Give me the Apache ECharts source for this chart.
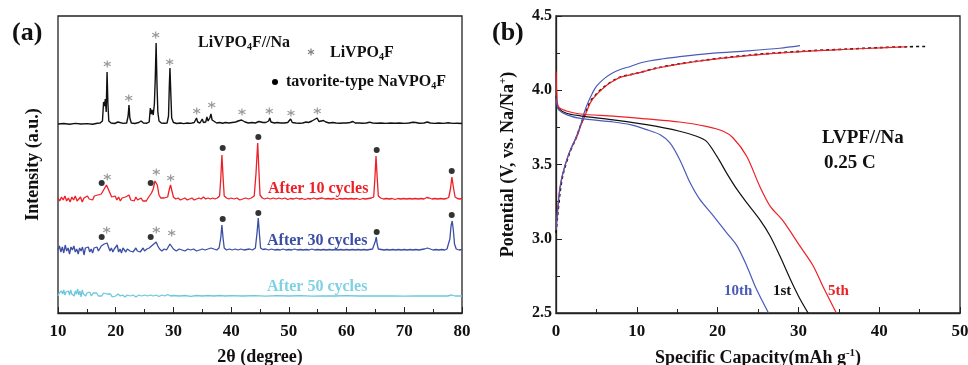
<!DOCTYPE html>
<html lang="en">
  <head>
    <meta charset="UTF-8" />
    <title>LiVPO4F XRD and charge/discharge</title>
    <script src="https://cdn.jsdelivr.net/npm/echarts@6/dist/echarts.min.js"></script>
    <style>
      body { margin: 0; background: #fff; }
    </style>
  </head>
  <body>
    <div id="main" style="width: 968px; height: 365px"></div>
    <script type="text/javascript">
      // (a) XRD patterns: [2theta, intensity above each pattern's own baseline]
      const xrdPristine = [
        [10,0],[11,0.5],[12,-0.3],[13,0.6],[14,0],[15,0.4],[16,-0.2],[16.8,0.8],[17.3,1],[17.7,3],[17.9,22],[18.05,18],[18.2,25],[18.35,12],[18.5,52],[18.65,20],[18.8,3],[19.2,1],[19.8,0.5],[20.4,2],[20.7,0.5],[21.3,0.6],[21.9,1],[22.15,8],[22.3,19],[22.45,6],[22.7,1],[23.3,0.5],[24,1.5],[24.4,3],[24.8,1],[25.4,0.8],[25.8,2],[26,16],[26.15,10],[26.3,14],[26.5,9],[26.7,20],[26.85,45],[27,81],[27.15,40],[27.3,12],[27.5,3],[27.9,1],[28.4,0.8],[28.9,1],[29.15,8],[29.3,40],[29.4,56],[29.55,30],[29.7,6],[30,1.5],[30.6,0.5],[31.2,1],[31.8,0.4],[32.4,1],[33,0.6],[33.6,1.5],[34,6],[34.2,2],[34.6,1],[35,5],[35.2,1.5],[35.6,2],[35.8,7],[36,3],[36.3,6],[36.5,10],[36.7,4],[37,2],[37.5,1],[38,1.5],[38.5,0.8],[39,1.5],[39.6,1],[40.2,1.5],[40.8,2],[41.2,3],[41.5,5],[41.8,4],[42.1,4],[42.4,2],[43,1],[43.6,1.5],[44.2,1],[44.8,2.5],[45.1,3],[45.5,1.5],[46,1.5],[46.5,3],[46.7,6],[46.9,2],[47.5,1],[48,1.5],[48.6,1],[49.2,1],[49.8,1.5],[50.3,5],[50.6,1.5],[51.2,1],[51.8,0.8],[52.4,1],[53,2],[53.4,1.5],[54,3],[54.3,2],[54.9,6],[55.2,2.5],[55.6,3],[56,3.5],[56.4,2],[57,1],[57.6,1.5],[58.2,1],[58.8,0.8],[59.4,1],[60,1],[60.6,1.5],[61.1,2.5],[61.5,1],[62.2,1],[62.8,0.8],[63.4,1],[64,1.8],[64.5,1],[65.2,0.8],[66,1],[66.8,0.6],[67.6,1],[68.4,0.8],[69.2,1],[70,0.6],[70.8,1],[71.5,1.8],[72,1.5],[72.6,0.8],[73.4,1],[74,2],[74.5,1],[75.2,0.6],[76,1],[76.8,0.6],[77.6,1.2],[78.4,0.6],[79.2,0.8],[80,0.5]
      ];
      const xrd10 = [
        [10,1],[10.3,-2],[10.6,2],[10.9,-1],[11.2,3],[11.5,-2],[11.8,1],[12.1,-3],[12.4,2],[12.7,-1],[13,3],[13.3,-2],[13.6,0],[13.9,2],[14.2,-3],[14.5,1],[14.8,-1],[15.1,3],[15.4,0],[15.7,2],[16,-1],[16.3,3],[16.6,1],[16.9,4],[17.2,2],[17.5,5],[17.8,7],[18.1,11],[18.4,14],[18.7,12],[19,6],[19.3,2],[19.6,0],[19.9,3],[20.2,-1],[20.5,2],[20.8,-2],[21.1,1],[21.4,-1],[21.7,2],[22,0],[22.3,4],[22.6,-1],[22.9,1],[23.2,-2],[23.5,2],[23.8,-1],[24.1,-3],[24.4,1],[24.7,-2],[25,0],[25.3,-2],[25.6,1],[25.9,3],[26.2,6],[26.5,10],[26.8,18],[27,20],[27.2,14],[27.5,4],[27.8,1],[28.1,-1],[28.4,1],[28.7,0],[29,2],[29.3,10],[29.5,14],[29.7,9],[30,2],[30.4,0],[30.8,1],[31.2,-1],[31.6,0],[32,1],[32.4,-1],[32.8,0],[33.2,1],[33.6,-1],[34,0],[34.4,1],[34.8,0],[35.2,2],[35.6,0],[36,1],[36.4,0],[36.8,1],[37.2,0],[37.6,1],[38,3],[38.2,20],[38.4,44],[38.6,22],[38.8,3],[39.2,1],[39.6,0],[40,1],[40.5,0],[41,1],[41.5,-1],[42,0],[42.5,1],[43,0],[43.5,1],[44,3],[44.3,25],[44.6,56],[44.8,30],[45,4],[45.4,1],[45.8,0],[46.3,1],[46.8,0],[47.3,1],[47.8,0],[48.3,1],[48.8,0],[49.3,1],[49.8,-0.5],[50.3,0.5],[50.8,0],[51.3,1],[51.8,0],[52.3,0.5],[52.8,-0.5],[53.3,0.5],[53.8,0],[54.3,1],[54.8,0],[55.3,0.5],[55.8,1],[56.3,0],[56.8,0.5],[57.3,0],[57.8,0.5],[58.3,-0.5],[58.8,0.5],[59.3,0],[59.8,0.5],[60.3,0],[60.8,0.5],[61.3,0],[61.8,0.5],[62.3,-0.5],[62.8,0.5],[63.3,0],[63.8,0.5],[64.3,1],[64.7,2],[64.9,20],[65.1,43],[65.3,22],[65.5,3],[65.9,1],[66.4,0],[66.9,0.5],[67.4,0],[67.9,0.5],[68.4,-0.5],[68.9,0.5],[69.4,0],[69.9,0.5],[70.4,0],[70.9,0.5],[71.4,0],[71.9,0.5],[72.4,0],[72.9,0.5],[73.4,0],[73.9,1.5],[74.3,1],[74.8,0],[75.3,0.5],[75.8,0],[76.3,0.5],[76.8,0],[77.3,0.5],[77.7,1.5],[78,10],[78.25,22],[78.5,12],[78.8,2],[79.2,0.5],[79.6,0],[80,0.5]
      ];
      const xrd30 = [
        [10,0],[10.25,4],[10.5,-2],[10.75,3],[11,-3],[11.25,5],[11.5,-1],[11.75,2],[12,-4],[12.25,3],[12.5,0],[12.75,4],[13,-2],[13.25,1],[13.5,-4],[13.75,2],[14,-1],[14.25,3],[14.5,-5],[14.75,2],[15,0],[15.25,3],[15.5,-2],[15.75,1],[16,-3],[16.25,2],[16.5,0],[16.75,3],[17,-1],[17.25,1],[17.5,4],[17.75,2],[18,6],[18.25,5],[18.5,7],[18.75,3],[19,-1],[19.25,2],[19.5,-2],[19.75,1],[20,-1],[20.25,5],[20.5,-2],[20.75,1],[21,-3],[21.25,2],[21.5,0],[21.75,-2],[22,1],[22.25,3],[22.5,-1],[22.75,1],[23,-2],[23.25,0],[23.5,2],[23.75,-1],[24,1],[24.25,-2],[24.5,0],[24.75,2],[25,-1],[25.4,1],[25.8,2],[26.1,3],[26.4,5],[26.7,6],[27,8],[27.3,4],[27.6,1],[28,-1],[28.4,1],[28.8,0],[29.1,3],[29.4,6],[29.7,4],[30,1],[30.5,-1],[31,1],[31.5,0],[32,-1],[32.5,1],[33,0],[33.5,1],[34,-1],[34.5,0],[35,1],[35.5,0],[36,1],[36.5,2],[37,1],[37.5,0],[37.9,2],[38.2,12],[38.4,25],[38.6,12],[38.8,2],[39.2,0],[39.7,1],[40.2,0],[40.7,1],[41.2,0],[41.7,1],[42.2,0],[42.7,0.5],[43.2,1],[43.7,0],[44.2,2],[44.5,18],[44.7,32],[44.9,16],[45.1,2],[45.5,0.5],[46,1],[46.5,0],[47,1],[47.5,0],[48,0.5],[48.5,0],[49,1],[49.5,0],[50,0.5],[50.5,0],[51,1],[51.5,0],[52,0.5],[52.5,0],[53,0.5],[53.5,0],[54,1],[54.5,0],[55,0.5],[55.5,0],[56,0.5],[56.5,0],[57,0.5],[57.5,0],[58,0.5],[58.5,0],[59,0.5],[59.5,0],[60,0.5],[60.5,0],[61,0.5],[61.5,0],[62,0.5],[62.5,0],[63,0.5],[63.5,0],[64,0.5],[64.5,1],[64.8,2],[65,9],[65.15,13],[65.3,6],[65.5,1],[66,0.5],[66.5,0],[67,0.5],[67.5,0],[68,0.5],[68.5,0],[69,0.5],[69.5,0],[70,0.5],[70.5,0],[71,0.5],[71.5,0],[72,0.5],[72.5,0],[73,0.5],[73.5,1],[74,2],[74.5,1],[75,0],[75.5,0.5],[76,0],[76.5,0.5],[77,0],[77.4,1],[77.7,3],[77.9,11],[78.1,24],[78.3,29],[78.5,20],[78.7,6],[79,1],[79.5,0],[80,0.5]
      ];
      const xrd50 = [
        [10,0],[10.2,3],[10.4,1],[10.6,5],[10.8,2],[11,6],[11.2,1],[11.4,4],[11.6,2],[11.8,5],[12,1],[12.2,6],[12.4,2],[12.6,4],[12.8,0],[13,5],[13.2,2],[13.4,7],[13.6,1],[13.8,5],[14,-1],[14.2,6],[14.4,2],[14.6,4],[14.8,0],[15,3],[15.2,1],[15.5,4],[15.8,0],[16.1,3],[16.4,1],[16.7,3],[17,0],[17.3,2],[17.6,0],[17.9,3],[18.2,1],[18.5,2],[18.8,0],[19.1,2],[19.4,-1],[19.7,1],[20,0],[20.4,2],[20.8,0],[21.2,1],[21.6,-1],[22,1],[22.5,0],[23,1],[23.5,-1],[24,1],[24.5,0],[25,1],[25.5,0],[26,1],[26.5,0],[27,1],[27.5,-0.5],[28,1],[28.5,0],[29,1.5],[29.5,0],[30,0.5],[31,0],[32,0.5],[33,-0.3],[34,0.5],[35,0],[36,0.5],[37,0],[38,0.5],[39,0],[40,0.3],[42,0],[44,0.4],[46,-0.2],[48,0.3],[50,0],[52,0.3],[54,-0.2],[56,0.2],[58,0],[60,0.3],[62,0],[64,0.2],[66,0],[68,0.2],[70,-0.2],[72,0.2],[74,0],[76,0.2],[77.5,0],[78.2,1],[78.8,0],[80,0]
      ];
      // vertical stacking offsets of the four patterns
      const xrdOffsets = [189, 114, 63, 17];

      // reflection markers (2theta, stacked intensity)
      const starMarks = [
        [18.54,249],[22.25,215],[26.93,278],[29.36,251],[34.03,202],[36.63,208],[41.88,201],[46.61,202],[50.37,200],[54.93,202],
        [18.54,136],[27.03,141],[29.52,135],
        [18.43,83],[27.03,83],[29.7,80]
      ];
      const dotMarks = [
        [17.57,130],[26.06,130],[38.54,165],[44.71,176],[65.22,163],[78.22,142],
        [17.57,76],[26.06,76],[38.54,94],[44.71,100],[65.22,81],[78.22,98]
      ];

      // (b) charge / discharge profiles: [capacity mAh/g, potential V]
      const charge1st = [[0,3.04],[0.16,3.13],[0.5,3.31],[0.9,3.44],[1.7,3.58],[2.5,3.68],[3,3.757],[3.6,3.84],[4.2,3.92],[5,3.975],[6.1,4.03],[7.1,4.065],[7.9,4.088],[10,4.115],[12.5,4.15],[15.3,4.178],[20.3,4.216],[25.7,4.245],[31.8,4.267],[36,4.277],[40.1,4.287],[43.5,4.293],[45.7,4.295]];
      const charge5th = [[0,3.06],[0.2,3.2],[0.5,3.35],[1,3.47],[1.8,3.6],[2.6,3.69],[3.1,3.765],[3.7,3.845],[4.3,3.92],[5.1,3.975],[6.2,4.03],[7.2,4.065],[8,4.088],[10.1,4.115],[12.6,4.15],[15.4,4.178],[20.4,4.214],[25.8,4.243],[31.9,4.265],[36.1,4.276],[40.2,4.286],[43.5,4.293]];
      const charge10th = [[0,3.06],[0.15,3.15],[0.4,3.3],[0.8,3.43],[1.5,3.56],[2.3,3.66],[3,3.76],[3.5,3.85],[3.9,3.91],[4.5,3.98],[5,4.026],[6,4.08],[7.1,4.12],[8.2,4.145],[9.2,4.16],[10.5,4.185],[11.5,4.197],[13,4.21],[15.3,4.227],[19.5,4.25],[23.6,4.265],[27.7,4.283],[30.2,4.3]];
      const discharge1st = [[0,3.96],[0.1,3.92],[0.3,3.88],[1.3,3.845],[3,3.828],[7.1,3.8],[11.2,3.768],[15.3,3.724],[17.4,3.69],[18.6,3.657],[19.9,3.556],[21.1,3.444],[22.4,3.332],[23.6,3.243],[25.2,3.13],[26.5,3.019],[27.7,2.885],[29,2.728],[30.2,2.594],[31.2,2.5]];
      const discharge5th = [[0,4.126],[0.1,3.98],[0.3,3.89],[1.3,3.86],[3,3.84],[7.1,3.826],[11.2,3.807],[15.3,3.786],[18.6,3.757],[20.7,3.724],[21.9,3.68],[23.6,3.556],[25.2,3.355],[26.5,3.22],[28.1,3.12],[30.2,2.95],[31.8,2.82],[33.1,2.672],[34.7,2.5]];
      const discharge10th = [[0,3.95],[0.1,3.91],[0.3,3.87],[1.3,3.836],[3,3.81],[7.1,3.786],[9.2,3.768],[11.2,3.735],[12.9,3.7],[14.1,3.645],[15.3,3.534],[16.6,3.377],[17.8,3.265],[19.5,3.153],[21.1,3.041],[22.4,2.952],[23.6,2.818],[24.8,2.661],[26.3,2.5]];

      const serif = '"Liberation Serif", "Times New Roman", serif';
      const RED = "#ee1f26";
      const BLUE_A = "#3b4ea4";
      const BLUE_B = "#4a5ab8";
      const CYAN = "#6cc8dc";
      const STAR = "path://M5,0L5,10M0.67,2.5L9.33,7.5M0.67,7.5L9.33,2.5";

      const shift = (arr, off) => arr.map((p) => [p[0], p[1] + off]);

      const axisFont = { fontFamily: serif, fontWeight: "bold", fontSize: 17, color: "#111" };
      const nameFont = { fontFamily: serif, fontWeight: "bold", fontSize: 18, color: "#111" };
      const supRich = { sup: { fontFamily: serif, fontWeight: "bold", fontSize: 11, padding: [0, 0, 9, 0], color: "#111" } };

      function label(x, y, text, color, size, rich) {
        return {
          type: "text",
          x: x,
          y: y,
          style: {
            text: text,
            fill: color || "#111",
            fontFamily: serif,
            fontWeight: "bold",
            fontSize: size || 16,
            textVerticalAlign: "middle",
            rich: rich,
          },
        };
      }
      const subRich = {
        s: { fontFamily: serif, fontWeight: "bold", fontSize: 10, padding: [9, 0, 0, 0], fill: "#111" },
      };
      const ticks = {
        axisTick: { inside: true, length: 6, lineStyle: { color: "#222" } },
        minorTick: { show: true, splitNumber: 2, length: 4, lineStyle: { color: "#222" } },
        axisLine: { lineStyle: { color: "#222", width: 1.3 } },
        splitLine: { show: false },
      };
      const gridBase = { top: 16, width: 404, height: 297, show: true, borderColor: "#222", borderWidth: 1.3, backgroundColor: "transparent", outerBoundsMode: "none", containLabel: false };

      let myChart = echarts.init(document.getElementById("main"));
      let options = {
        animation: false,
        grid: [
          Object.assign({ left: 58 }, gridBase),
          Object.assign({ left: 556 }, gridBase),
        ],
        xAxis: [
          Object.assign({
            gridIndex: 0, type: "value", min: 10, max: 80, interval: 10,
            axisLabel: Object.assign({ margin: 10 }, axisFont),
            name: "2θ (degree)", nameLocation: "middle", nameGap: 35, nameTextStyle: nameFont,
          }, ticks),
          Object.assign({
            gridIndex: 1, type: "value", min: 0, max: 50, interval: 10,
            axisLabel: Object.assign({ margin: 10 }, axisFont),
            name: "Specific Capacity(mAh g{sup|-1})", nameLocation: "middle", nameGap: 35,
            nameTextStyle: Object.assign({ rich: supRich }, nameFont),
          }, ticks),
        ],
        yAxis: [
          {
            gridIndex: 0, type: "value", min: 0, max: 297,
            axisLine: { show: false }, axisTick: { show: false }, axisLabel: { show: false },
            splitLine: { show: false },
            name: "Intensity (a.u.)", nameLocation: "middle", nameRotate: 90, nameGap: 16, nameTextStyle: nameFont,
          },
          Object.assign({
            gridIndex: 1, type: "value", min: 2.5, max: 4.5, interval: 0.5,
            axisLabel: Object.assign({ margin: 4, formatter: (v) => v.toFixed(1) }, axisFont, { fontSize: 16 }),
            name: "Potential (V, vs. Na/Na{sup|+})", nameLocation: "middle", nameRotate: 90, nameGap: 38,
            nameTextStyle: Object.assign({ rich: supRich }, nameFont),
          }, ticks),
        ],
        series: [
          { type: "line", xAxisIndex: 0, yAxisIndex: 0, data: shift(xrdPristine, xrdOffsets[0]), symbol: "none", lineStyle: { color: "#111", width: 1.4 } },
          { type: "line", xAxisIndex: 0, yAxisIndex: 0, data: shift(xrd10, xrdOffsets[1]), symbol: "none", lineStyle: { color: RED, width: 1.3 } },
          { type: "line", xAxisIndex: 0, yAxisIndex: 0, data: shift(xrd30, xrdOffsets[2]), symbol: "none", lineStyle: { color: BLUE_A, width: 1.3 } },
          { type: "line", xAxisIndex: 0, yAxisIndex: 0, data: shift(xrd50, xrdOffsets[3]), symbol: "none", lineStyle: { color: CYAN, width: 1.3 } },
          {
            type: "scatter", xAxisIndex: 0, yAxisIndex: 0, data: starMarks, symbol: STAR, symbolSize: 7,
            itemStyle: { color: "rgba(0,0,0,0)", borderColor: "#808080", borderWidth: 1.2 },
          },
          { type: "scatter", xAxisIndex: 0, yAxisIndex: 0, data: dotMarks, symbol: "circle", symbolSize: 6, itemStyle: { color: "#000" } },

          { type: "line", xAxisIndex: 1, yAxisIndex: 1, data: charge1st, symbol: "none", smooth: 0.3, lineStyle: { color: "#111", width: 1.6, type: [3, 3] } },
          { type: "line", xAxisIndex: 1, yAxisIndex: 1, data: charge5th, symbol: "none", smooth: 0.3, lineStyle: { color: RED, width: 1.2 } },
          { type: "line", xAxisIndex: 1, yAxisIndex: 1, data: charge10th, symbol: "none", smooth: 0.3, lineStyle: { color: BLUE_B, width: 1.2 } },
          { type: "line", xAxisIndex: 1, yAxisIndex: 1, data: discharge1st, symbol: "none", smooth: 0.3, lineStyle: { color: "#111", width: 1.2 } },
          { type: "line", xAxisIndex: 1, yAxisIndex: 1, data: discharge5th, symbol: "none", smooth: 0.3, lineStyle: { color: RED, width: 1.2 } },
          { type: "line", xAxisIndex: 1, yAxisIndex: 1, data: discharge10th, symbol: "none", smooth: 0.3, lineStyle: { color: BLUE_B, width: 1.2 } },
        ],
        graphic: [
          label(12, 33, "(a)", "#111", 26),
          label(492, 33, "(b)", "#111", 26),
          label(198, 43, "LiVPO{s|4}F//Na", "#111", 16, subRich),
          {
            type: "group", x: 311, y: 52,
            children: [
              { type: "line", shape: { x1: 0, y1: -3.5, x2: 0, y2: 3.5 }, style: { stroke: "#808080", lineWidth: 1.2 } },
              { type: "line", shape: { x1: -3, y1: -1.75, x2: 3, y2: 1.75 }, style: { stroke: "#808080", lineWidth: 1.2 } },
              { type: "line", shape: { x1: -3, y1: 1.75, x2: 3, y2: -1.75 }, style: { stroke: "#808080", lineWidth: 1.2 } },
            ],
          },
          label(330, 53, "LiVPO{s|4}F", "#111", 16, subRich),
          { type: "circle", shape: { cx: 275, cy: 82, r: 3 }, style: { fill: "#000" } },
          label(286, 82, "tavorite-type NaVPO{s|4}F", "#111", 16, subRich),
          label(268, 189, "After 10 cycles", RED, 16),
          label(267, 241, "After 30 cycles", BLUE_A, 16),
          label(267, 287, "After 50 cycles", "#7fd1e4", 16),
          label(822, 138, "LVPF//Na", "#111", 19),
          label(824, 163, "0.25 C", "#111", 19),
          label(724, 291, "10th", BLUE_B, 15),
          label(773, 291, "1st", "#111", 15),
          label(828, 291, "5th", RED, 15),
        ],
      };
      myChart.setOption(options);
    </script>
  </body>
</html>
